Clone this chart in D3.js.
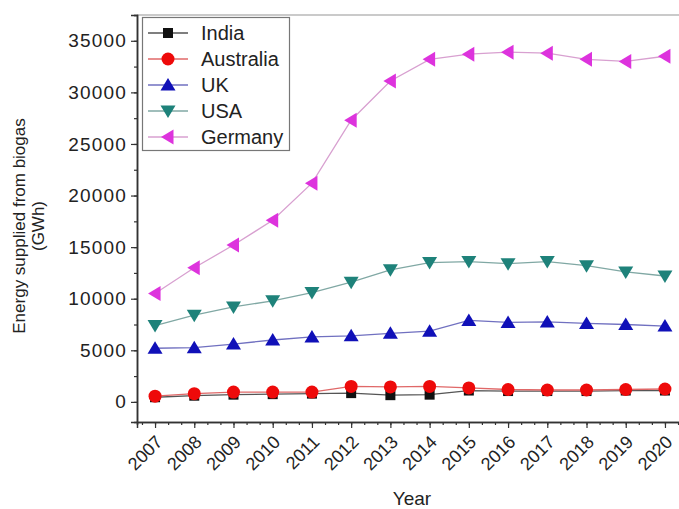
<!DOCTYPE html>
<html>
<head>
<meta charset="utf-8">
<script src="https://cdn.jsdelivr.net/npm/d3@7"></script>
<style>
  body { margin: 0; background: #fff; }
  text { font-family: "Liberation Sans", Arial, sans-serif; fill: #222; }
</style>
</head>
<body>
<div id="chart"></div>
<script>
const width = 679
const height = 509
const margin = { top: 15, bottom: 87, left: 137, right: -4 }

// data (GWh)
const years = [2007, 2008, 2009, 2010, 2011, 2012, 2013, 2014, 2015, 2016, 2017, 2018, 2019, 2020]
const india = [450, 600, 700, 750, 800, 850, 650, 700, 1100, 1050, 1050, 1050, 1100, 1100]
const australia = [550, 800, 950, 950, 950, 1500, 1450, 1500, 1350, 1200, 1150, 1150, 1200, 1250]
const uk = [5200, 5250, 5600, 6000, 6300, 6400, 6650, 6850, 7900, 7700, 7750, 7600, 7500, 7350]
const usa = [7400, 8400, 9200, 9800, 10600, 11600, 12800, 13500, 13600, 13400, 13600, 13200, 12600, 12200]
const germany = [10500, 13000, 15200, 17600, 21200, 27300, 31100, 33200, 33700, 33900, 33800, 33200, 33000, 33500]
const yTicks = [0, 5000, 10000, 15000, 20000, 25000, 30000, 35000]

const series = [
    { name: "India", values: india, color: "#111111", line: "#555555", symbol: "square" },
    { name: "Australia", values: australia, color: "#ee0a0a", line: "#e06868", symbol: "circle" },
    { name: "UK", values: uk, color: "#1010b8", line: "#7070c0", symbol: "up" },
    { name: "USA", values: usa, color: "#1e827a", line: "#80a8a4", symbol: "down" },
    { name: "Germany", values: germany, color: "#dd33dd", line: "#d8a0d0", symbol: "left" }
]

const svg = d3.select("#chart").append("svg")
    .attr("width", width)
    .attr("height", height)

let x = d3.scaleLinear().domain([2006.54, 2020.46]).range([margin.left, width - margin.right])
let y = d3.scaleLinear().domain([-1950, 37500]).range([height - margin.bottom, margin.top])

// symbol shapes
function marker(sel, type, color) {
    if (type === "square") {
        sel.append("rect").attr("x", -5).attr("y", -5).attr("width", 10).attr("height", 10).attr("fill", color)
    } else if (type === "circle") {
        sel.append("circle").attr("r", 6.5).attr("fill", color)
    } else {
        let pts
        if (type === "up") pts = "0,-7 7.5,5.5 -7.5,5.5"
        if (type === "down") pts = "0,7 7.5,-5.5 -7.5,-5.5"
        if (type === "left") pts = "-7,0 5.5,-7.5 5.5,7.5"
        sel.append("polygon").attr("points", pts).attr("fill", color)
    }
}

// frame top line
svg.append("line")
    .attr("x1", margin.left).attr("x2", width)
    .attr("y1", margin.top).attr("y2", margin.top)
    .attr("stroke", "#b8b8b8").attr("stroke-width", 1.5)

// axes
let xAxis = d3.axisBottom(x).tickValues(years).tickFormat(d3.format("d")).tickSize(6).tickPadding(4)
let xMinor = d3.axisBottom(x).tickValues(d3.range(2006.6667, 2020.5, 1 / 3)).tickFormat("").tickSize(3)
let yAxis = d3.axisLeft(y).tickValues(yTicks).tickFormat(d3.format("d")).tickSize(6).tickPadding(4)
let yMinor = d3.axisLeft(y).tickValues(d3.range(-2500, 37501, 2500).filter(v => v >= -1950)).tickFormat("").tickSize(3)

let xMinorGroup = svg.append("g").attr("transform", `translate(0, ${height - margin.bottom})`).call(xMinor)
let xAxisGroup = svg.append("g").attr("transform", `translate(0, ${height - margin.bottom})`).call(xAxis)
let yMinorGroup = svg.append("g").attr("transform", `translate(${margin.left}, 0)`).call(yMinor)
let yAxisGroup = svg.append("g").attr("transform", `translate(${margin.left}, 0)`).call(yAxis)

svg.selectAll(".domain").attr("stroke", "#333").attr("stroke-width", 1.5)
svg.selectAll(".tick line").attr("stroke", "#333").attr("stroke-width", 1.2)

yAxisGroup.selectAll("text").attr("font-size", 19).attr("letter-spacing", 1.2).attr("fill", "#222")
xAxisGroup.selectAll("text")
    .attr("font-size", 18).attr("fill", "#222")
    .attr("text-anchor", "end")
    .attr("dy", 0)
    .attr("transform", "translate(1, 14) rotate(-45)")

// axis titles
svg.append("text")
    .attr("transform", "translate(25, 226) rotate(-90)")
    .attr("text-anchor", "middle").attr("font-size", 17)
    .text("Energy supplied from biogas")
svg.append("text")
    .attr("transform", "translate(44, 226) rotate(-90)")
    .attr("text-anchor", "middle").attr("font-size", 17)
    .text("(GWh)")
svg.append("text")
    .attr("x", 412).attr("y", 505)
    .attr("text-anchor", "middle").attr("font-size", 19)
    .text("Year")

// lines + markers
let elementGroup = svg.append("g")
let line = d3.line().x((d, i) => x(years[i])).y(d => y(d))

series.forEach(s => {
    elementGroup.append("path")
        .attr("d", line(s.values))
        .attr("fill", "none")
        .attr("stroke", s.line)
        .attr("stroke-width", 1.3)
})
series.forEach(s => {
    elementGroup.selectAll(null).data(s.values).enter().append("g")
        .attr("transform", (d, i) => `translate(${x(years[i])}, ${y(d)})`)
        .each(function () { marker(d3.select(this), s.symbol, s.color) })
})

// legend
let legend = svg.append("g")
legend.append("rect")
    .attr("x", 142.5).attr("y", 17.5).attr("width", 147).attr("height", 133)
    .attr("fill", "#fff").attr("stroke", "#777").attr("stroke-width", 1.2)

series.forEach((s, i) => {
    let g = legend.append("g").attr("transform", `translate(168, ${33 + i * 26})`)
    g.append("line").attr("x1", -20).attr("x2", 20).attr("stroke", s.line).attr("stroke-width", 1.3)
    marker(g, s.symbol, s.color)
    g.append("text").attr("x", 33).attr("y", 7).attr("font-size", 20).text(s.name)
})
</script>
</body>
</html>
